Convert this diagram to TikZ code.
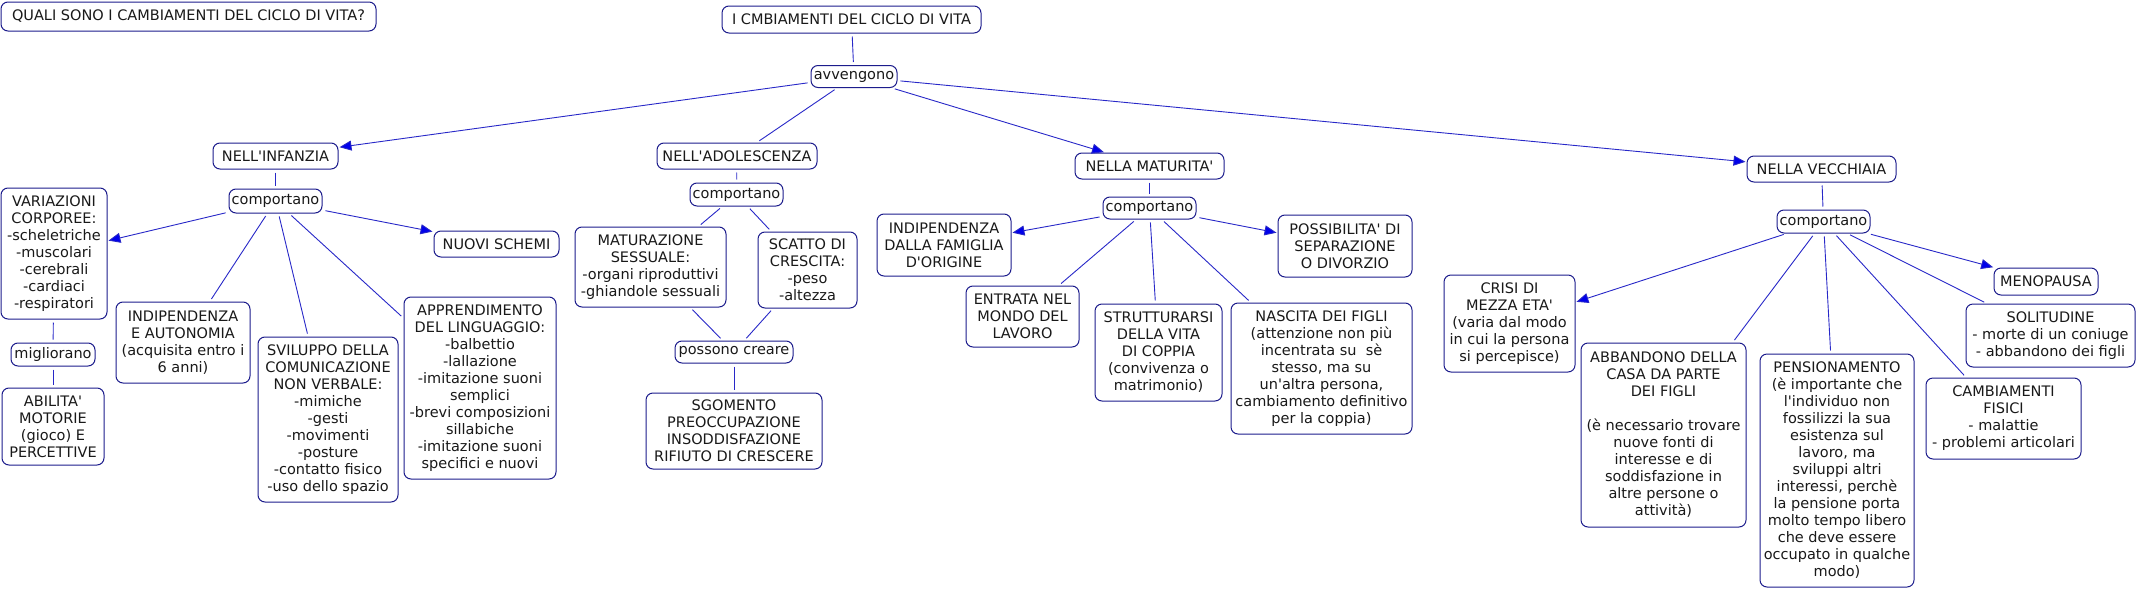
\documentclass[tikz,border=0pt]{standalone}
\usepackage{fontspec}
\newfontfamily\djv{DejaVu Sans}
\usetikzlibrary{arrows.meta}
\definecolor{boxc}{RGB}{28,28,140}
\definecolor{linec}{RGB}{40,40,200}
\definecolor{tipc}{RGB}{0,0,235}
\definecolor{txtc}{RGB}{25,25,25}
\begin{document}
\begin{tikzpicture}[x=1pt,y=-1pt,
  cbox/.style={draw=boxc, line width=1pt, rounded corners=7pt, align=center,
    inner xsep=2pt, inner ysep=1pt, text=txtc, fill=white,
    font=\djv\fontsize{14.5}{17}\selectfont},
  link/.style={draw=linec, line width=0.9pt, shorten <=3pt, shorten >=3pt},
  arr/.style={link, -{Triangle[length=12pt,width=10pt,fill=tipc]}, shorten >=1pt},
]
\fill[white] (0,0) rectangle (2137,589);
\useasboundingbox (0,0) rectangle (2137,589);

% top level
\node[cbox, minimum width=375pt, minimum height=29pt] (q) at (188.5,16.5) {QUALI SONO I CAMBIAMENTI DEL CICLO DI VITA?};
\node[cbox, minimum width=259pt, minimum height=27pt] (top) at (851.5,19.5) {I CMBIAMENTI DEL CICLO DI VITA};
\node[cbox, minimum width=86pt, minimum height=22pt] (avv) at (854,76.5) {avvengono};
\node[cbox, minimum width=125pt, minimum height=26pt] (inf) at (275.5,156) {NELL'INFANZIA};
\node[cbox, minimum width=160pt, minimum height=26pt] (ado) at (737,156) {NELL'ADOLESCENZA};
\node[cbox, minimum width=149pt, minimum height=26pt] (mat) at (1149.5,166) {NELLA MATURITA'};
\node[cbox, minimum width=149pt, minimum height=26pt] (vec) at (1821.5,169) {NELLA VECCHIAIA};

% infanzia
\node[cbox, minimum width=93pt, minimum height=24pt] (compI) at (275.5,201) {comportano};
\node[cbox, minimum width=106pt, minimum height=131pt] (var) at (54,253.5) {VARIAZIONI\\CORPOREE:\\-scheletriche\\-muscolari\\-cerebrali\\-cardiaci\\-respiratori};
\node[cbox, minimum width=84pt, minimum height=23pt] (migl) at (53,354.5) {migliorano};
\node[cbox, minimum width=102pt, minimum height=77pt] (abil) at (53,426.5) {ABILITA'\\MOTORIE\\(gioco) E\\PERCETTIVE};
\node[cbox, minimum width=134pt, minimum height=81pt] (indA) at (183,342.5) {INDIPENDENZA\\E AUTONOMIA\\(acquisita entro i\\6 anni)};
\node[cbox, minimum width=140pt, minimum height=165pt] (svil) at (328,419.5) {SVILUPPO DELLA\\COMUNICAZIONE\\NON VERBALE:\\-mimiche\\-gesti\\-movimenti\\-posture\\-contatto fisico\\-uso dello spazio};
\node[cbox, minimum width=152pt, minimum height=182pt] (appr) at (480,388) {APPRENDIMENTO\\DEL LINGUAGGIO:\\-balbettio\\-lallazione\\-imitazione suoni\\semplici\\-brevi composizioni\\sillabiche\\-imitazione suoni\\specifici e nuovi};
\node[cbox, minimum width=125pt, minimum height=26pt] (nuovi) at (496.5,244) {NUOVI SCHEMI};

% adolescenza
\node[cbox, minimum width=93pt, minimum height=23pt] (compA) at (736.5,194.5) {comportano};
\node[cbox, minimum width=151pt, minimum height=80pt] (matur) at (650.5,267) {MATURAZIONE\\SESSUALE:\\-organi riproduttivi\\-ghiandole sessuali};
\node[cbox, minimum width=99pt, minimum height=76pt] (scatto) at (807.5,270) {SCATTO DI\\CRESCITA:\\-peso\\-altezza};
\node[cbox, minimum width=118pt, minimum height=22pt] (poss) at (734,352) {possono creare};
\node[cbox, minimum width=176pt, minimum height=76pt] (sgom) at (734,431) {SGOMENTO\\PREOCCUPAZIONE\\INSODDISFAZIONE\\RIFIUTO DI CRESCERE};

% maturita
\node[cbox, minimum width=93pt, minimum height=22pt] (compM) at (1149.5,208) {comportano};
\node[cbox, minimum width=134pt, minimum height=62pt] (indF) at (944,245) {INDIPENDENZA\\DALLA FAMIGLIA\\D'ORIGINE};
\node[cbox, minimum width=113pt, minimum height=61pt] (entr) at (1022.5,316.5) {ENTRATA NEL\\MONDO DEL\\LAVORO};
\node[cbox, minimum width=127pt, minimum height=97pt] (strut) at (1158.5,352.5) {STRUTTURARSI\\DELLA VITA\\DI COPPIA\\(convivenza o\\matrimonio)};
\node[cbox, minimum width=181pt, minimum height=131pt] (nasc) at (1321.5,368.5) {NASCITA DEI FIGLI\\(attenzione non più\\incentrata su \ sè\\stesso, ma su\\un'altra persona,\\cambiamento definitivo\\per la coppia)};
\node[cbox, minimum width=134pt, minimum height=62pt] (sep) at (1345,246) {POSSIBILITA' DI\\SEPARAZIONE\\O DIVORZIO};

% vecchiaia
\node[cbox, minimum width=93pt, minimum height=23pt] (compV) at (1823.5,221.5) {comportano};
\node[cbox, minimum width=131pt, minimum height=97pt] (crisi) at (1509.5,323.5) {CRISI DI\\MEZZA ETA'\\(varia dal modo\\in cui la persona\\si percepisce)};
\node[cbox, minimum width=165pt, minimum height=184pt] (abb) at (1663.5,435) {ABBANDONO DELLA\\CASA DA PARTE\\DEI FIGLI\\\mbox{}\\(è necessario trovare\\nuove fonti di\\interesse e di\\soddisfazione in\\altre persone o\\attività)};
\node[cbox, minimum width=154pt, minimum height=233pt] (pens) at (1837,470.5) {PENSIONAMENTO\\(è importante che\\l'individuo non\\fossilizzi la sua\\esistenza sul\\lavoro, ma\\sviluppi altri\\interessi, perchè\\la pensione porta\\molto tempo libero\\che deve essere\\occupato in qualche\\modo)};
\node[cbox, minimum width=155pt, minimum height=81pt] (fis) at (2003.5,418.5) {CAMBIAMENTI\\FISICI\\- malattie\\- problemi articolari};
\node[cbox, minimum width=169pt, minimum height=63pt] (sol) at (2050.5,335.5) {SOLITUDINE\\- morte di un coniuge\\- abbandono dei figli};
\node[cbox, minimum width=104pt, minimum height=27pt] (meno) at (2046,281.5) {MENOPAUSA};

% connectors
\draw[link] (top) -- (avv);
\draw[arr] (avv) -- (inf);
\draw[link] (avv) -- (ado);
\draw[arr] (avv) -- (mat);
\draw[arr] (avv) -- (vec);

\draw[link] (inf) -- (compI);
\draw[arr] (compI) -- (var);
\draw[link] (compI) -- (indA);
\draw[link] (compI) -- (svil);
\draw[link] (compI) -- (appr);
\draw[arr] (compI) -- (nuovi);
\draw[link] (var) -- (migl);
\draw[link] (migl) -- (abil);

\draw[link] (ado) -- (compA);
\draw[link] (compA) -- (matur);
\draw[link] (compA) -- (scatto);
\draw[link] (matur) -- (poss);
\draw[link] (scatto) -- (poss);
\draw[link] (poss) -- (sgom);

\draw[link] (mat) -- (compM);
\draw[arr] (compM) -- (indF);
\draw[link] (compM) -- (entr);
\draw[link] (compM) -- (strut);
\draw[link] (compM) -- (nasc);
\draw[arr] (compM) -- (sep);

\draw[link] (vec) -- (compV);
\draw[arr] (compV) -- (crisi);
\draw[link] (compV) -- (abb);
\draw[link] (compV) -- (pens);
\draw[link] (compV) -- (fis);
\draw[link] (compV) -- (sol);
\draw[arr] (compV) -- (meno);
\end{tikzpicture}
\end{document}
